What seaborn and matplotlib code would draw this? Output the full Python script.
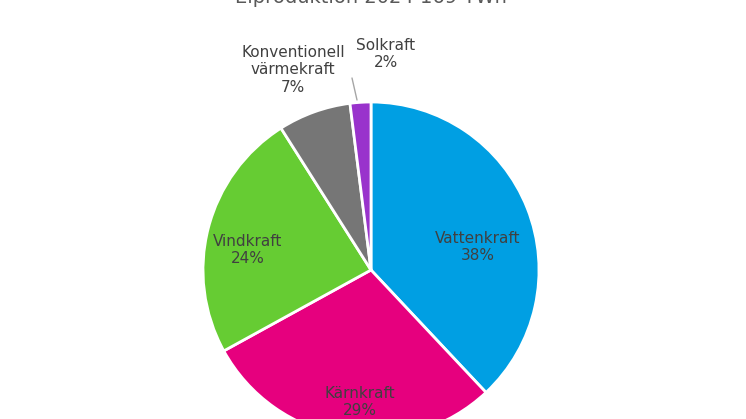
import matplotlib
matplotlib.use("Agg")
import matplotlib.pyplot as plt
import seaborn as sns

categories = ["Vattenkraft", "Kärnkraft", "Vindkraft", "Konventionell\nvärmekraft", "Solkraft"]
shares = [38, 29, 24, 7, 2]
colors = ["#009FE3", "#E6007E", "#66CC33", "#767676", "#9933CC"]
title = "Elproduktion 2024 169 TWh"

sns.set_theme(style="white")
W, H = 746, 419
fig = plt.figure(figsize=(W / 100, H / 100), dpi=100)
cx, cy, r = 371, 270, 168
ax = fig.add_axes([(cx - r) / W, (H - cy - r) / H, 2 * r / W, 2 * r / H])
ax.pie(shares, colors=colors, startangle=90, counterclock=False, radius=1,
       wedgeprops=dict(edgecolor="white", linewidth=2))
ax.set_xlim(-1, 1); ax.set_ylim(-1, 1); ax.set_aspect("equal"); ax.axis("off")

def d(px, py):
    return ((px - cx) / r, (cy - py) / r)

label_px = [(478, 247), (360, 402), (248, 250), (293, 70), (386, 54)]
for name, val, (px, py) in zip(categories, shares, label_px):
    x, y = d(px, py)
    ax.text(x, y, f"{name}\n{val}%", ha="center", va="center", fontsize=11,
            color="#404040", linespacing=1.2, clip_on=False)
x0, y0 = d(352, 78); x1, y1 = d(357, 100)
ax.plot([x0, x1], [y0, y1], color="#A6A6A6", lw=1, clip_on=False)

fig.text(cx / W, (H + 2) / H, title, ha="center", va="center", fontsize=14, color="#595959")
fig.savefig("out.png", dpi=100)
